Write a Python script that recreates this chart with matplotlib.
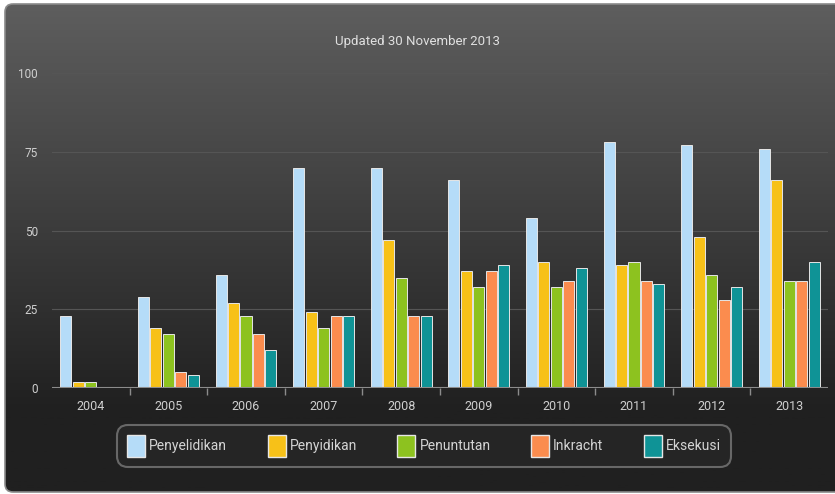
import numpy as np
import matplotlib
matplotlib.use('Agg')
import matplotlib.pyplot as plt
from matplotlib.patches import FancyBboxPatch, Patch

plt.rcParams['font.family'] = ['Roboto', 'DejaVu Sans']
plt.rcParams['font.stretch'] = 'condensed'

# data
years = ['2004', '2005', '2006', '2007', '2008', '2009', '2010', '2011', '2012', '2013']
penyelidikan = [23, 29, 36, 70, 70, 66, 54, 78, 77, 76]
penyidikan = [2, 19, 27, 24, 47, 37, 40, 39, 48, 66]
penuntutan = [2, 17, 23, 19, 35, 32, 32, 40, 36, 34]
inkracht = [0, 5, 17, 23, 23, 37, 34, 34, 28, 34]
eksekusi = [0, 4, 12, 23, 23, 39, 38, 33, 32, 40]

series = [
    ('Penyelidikan', penyelidikan, '#b5dcf8'),
    ('Penyidikan', penyidikan, '#f7c118'),
    ('Penuntutan', penuntutan, '#8dc21f'),
    ('Inkracht', inkracht, '#fb8c4e'),
    ('Eksekusi', eksekusi, '#0f9396'),
]

W, H = 835, 494
fig = plt.figure(figsize=(W / 100, H / 100), dpi=100)
fig.patch.set_facecolor('white')

# dark gradient panel behind everything
bg = fig.add_axes([0, 0, 1, 1], zorder=-2)
bg.set_xlim(0, W)
bg.set_ylim(H, 0)
bg.axis('off')
grad = np.linspace(0, 1, 256).reshape(-1, 1)
top = np.array([0x5e, 0x5e, 0x5e]) / 255
bot = np.array([0x20, 0x20, 0x20]) / 255
img = top + (bot - top) * np.clip(grad * 1.2, 0, 1)[:, :, None]
im = bg.imshow(img, extent=[5, W + 10, 492, 4], aspect='auto')
frame = FancyBboxPatch((5, 4), W + 5, 488, boxstyle='round,pad=0,rounding_size=8',
                       facecolor='none', edgecolor='#8a8a8a', lw=1.2)
bg.add_patch(frame)
im.set_clip_path(frame)

ax = fig.add_axes([52 / W, 1 - 388 / H, 776 / W, 315 / H])
ax.set_facecolor('none')
x = np.arange(len(years))
width = 0.142
pitch = 0.161
for i, (name, vals, col) in enumerate(series):
    ax.bar(x + (i - 2) * pitch, vals, width, color=col, edgecolor='#e6e6e6',
           linewidth=0.7, zorder=3)

ax.set_xlim(-0.5, len(years) - 0.5)
ax.set_ylim(0, 100)
ax.set_yticks([0, 25, 50, 75, 100])
for v in [25, 50, 75, 100]:
    ax.axhline(v, color='#555555', lw=0.8, zorder=1)
ax.axhline(0, color='#8c8c8c', lw=1.5, zorder=4)

for s in ax.spines.values():
    s.set_visible(False)
ax.tick_params(axis='y', length=0, pad=10, colors='#cfcfcf', labelsize=8.5)
ax.set_xticks(x)
ax.set_xticklabels(years)
ax.tick_params(axis='x', length=0, pad=9, colors='#cfcfcf', labelsize=9)
ax.set_xticks(np.arange(0.5, len(years) - 0.5, 1), minor=True)
ax.tick_params(axis='x', which='minor', length=5, width=1, color='#8c8c8c')

fig.text(0.5, 1 - 41 / H, 'Updated 30 November 2013', ha='center', va='center',
         color='#e0e0e0', fontsize=9.5)

handles = [Patch(facecolor=c, edgecolor='#e6e6e6', lw=1.0, label=n) for n, _, c in series]
leg = fig.legend(handles=handles, loc='center', ncol=5,
                 bbox_to_anchor=(424 / W, 1 - 446 / H), frameon=True, fancybox=True,
                 fontsize=10, handlelength=1.3, handleheight=2.0, handletextpad=0.3,
                 columnspacing=2.9, borderpad=0.75, labelcolor='#d4d4d4')
fr = leg.get_frame()
fr.set_facecolor('#272727')
fr.set_edgecolor('#7a7a7a')
fr.set_linewidth(1.5)
fr.set_boxstyle('round,pad=0,rounding_size=0.8')

fig.savefig('out.png', dpi=100)
